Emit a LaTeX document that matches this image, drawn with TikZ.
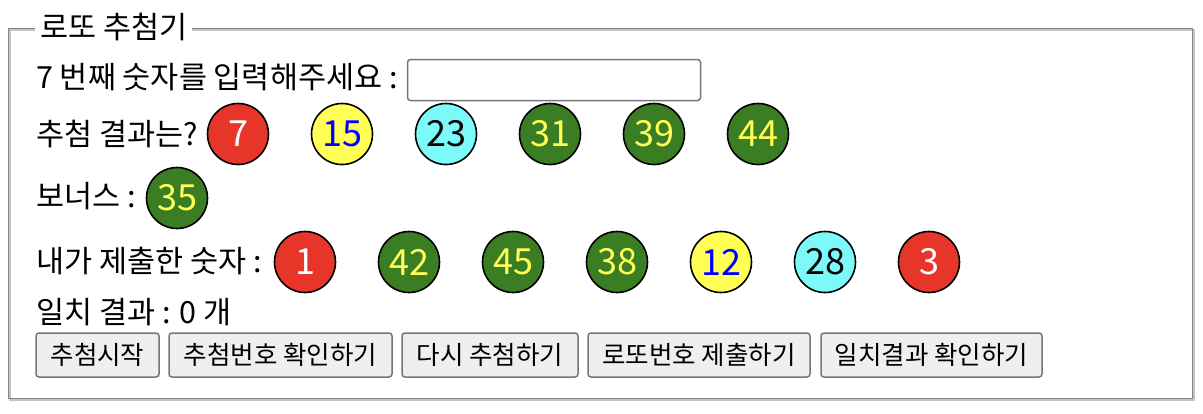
\documentclass[tikz,border=0pt]{standalone}
\usepackage{fontspec}
\setmainfont{Noto Sans CJK KR}
\definecolor{bred}{HTML}{E8352A}
\definecolor{byellow}{HTML}{FFFF55}
\definecolor{bcyan}{HTML}{7CFAFA}
\definecolor{bgreen}{HTML}{3A7D22}
\definecolor{tyellow}{HTML}{FFFF55}
\definecolor{btnborder}{HTML}{767676}
\definecolor{btnfill}{HTML}{EFEFEF}
\definecolor{grvdark}{HTML}{858585}
\definecolor{grvlight}{HTML}{C4C4C4}
\begin{document}
\begin{tikzpicture}[x=1pt,y=-1pt,
  ball/.style={circle, draw=black, line width=1.6pt, minimum size=61pt, inner sep=0pt, font=\fontsize{36}{36}\selectfont},
  rball/.style={ball, fill=bred, text=white},
  yball/.style={ball, fill=byellow, text=blue},
  cball/.style={ball, fill=bcyan, text=black},
  gball/.style={ball, fill=bgreen, text=tyellow},
  lbl/.style={anchor=base west, inner sep=0pt, font=\fontsize{30.5}{34}\selectfont},
  btn/.style={draw=btnborder, fill=btnfill, rounded corners=3pt, line width=1.5pt, inner sep=0pt, minimum height=44pt, font=\fontsize{25.5}{28}\selectfont},
]
\fill[white] (0,0) rectangle (1203,413);
\useasboundingbox (0,0) rectangle (1203,413);
% fieldset groove
\draw[grvlight, line width=1.5pt] (10,30) rectangle (1194,400);
\draw[grvdark, line width=1.5pt] (8.5,28.5) rectangle (1192.5,398.5);
\fill[white] (35,20) rectangle (192,36);
\node[lbl] (title) at (40,38) {로또 추첨기};
% row 1
\node[lbl] (r1) at (36,88) {7 번째 숫자를 입력해주세요 :};
\node[draw=btnborder, fill=white, line width=1.5pt, rounded corners=3pt, minimum width=293pt, minimum height=41pt, inner sep=0pt] (inp) at (554,80) {};
% row 2
\node[lbl] (r2) at (36,145) {추첨 결과는?};
\node[rball] (w1) at (238,134) {7};
\node[yball] (w2) at (342,134) {15};
\node[cball] (w3) at (446,134) {23};
\node[gball] (w4) at (550,134) {31};
\node[gball] (w5) at (654,134) {39};
\node[gball] (w6) at (758,134) {44};
% row 3
\node[lbl] (r3) at (36,207) {보너스 :};
\node[gball] (bn) at (177,198) {35};
% row 4
\node[lbl] (r4) at (36,272) {내가 제출한 숫자 :};
\node[rball] (m1) at (305,262) {1};
\node[gball] (m2) at (409,262) {42};
\node[gball] (m3) at (513,262) {45};
\node[gball] (m4) at (617,262) {38};
\node[yball] (m5) at (721,262) {12};
\node[cball] (m6) at (825,262) {28};
\node[rball] (m7) at (929,262) {3};
% row 5
\node[lbl] (r5) at (36,323) {일치 결과 : 0 개};
% buttons
\node[btn, minimum width=123pt] (b1) at (97.5,355) {추첨시작};
\node[btn, minimum width=223pt] (b2) at (280.5,355) {추첨번호 확인하기};
\node[btn, minimum width=176pt] (b3) at (490,355) {다시 추첨하기};
\node[btn, minimum width=222pt] (b4) at (699,355) {로또번호 제출하기};
\node[btn, minimum width=221pt] (b5) at (931.5,355) {일치결과 확인하기};
\end{tikzpicture}
\end{document}
